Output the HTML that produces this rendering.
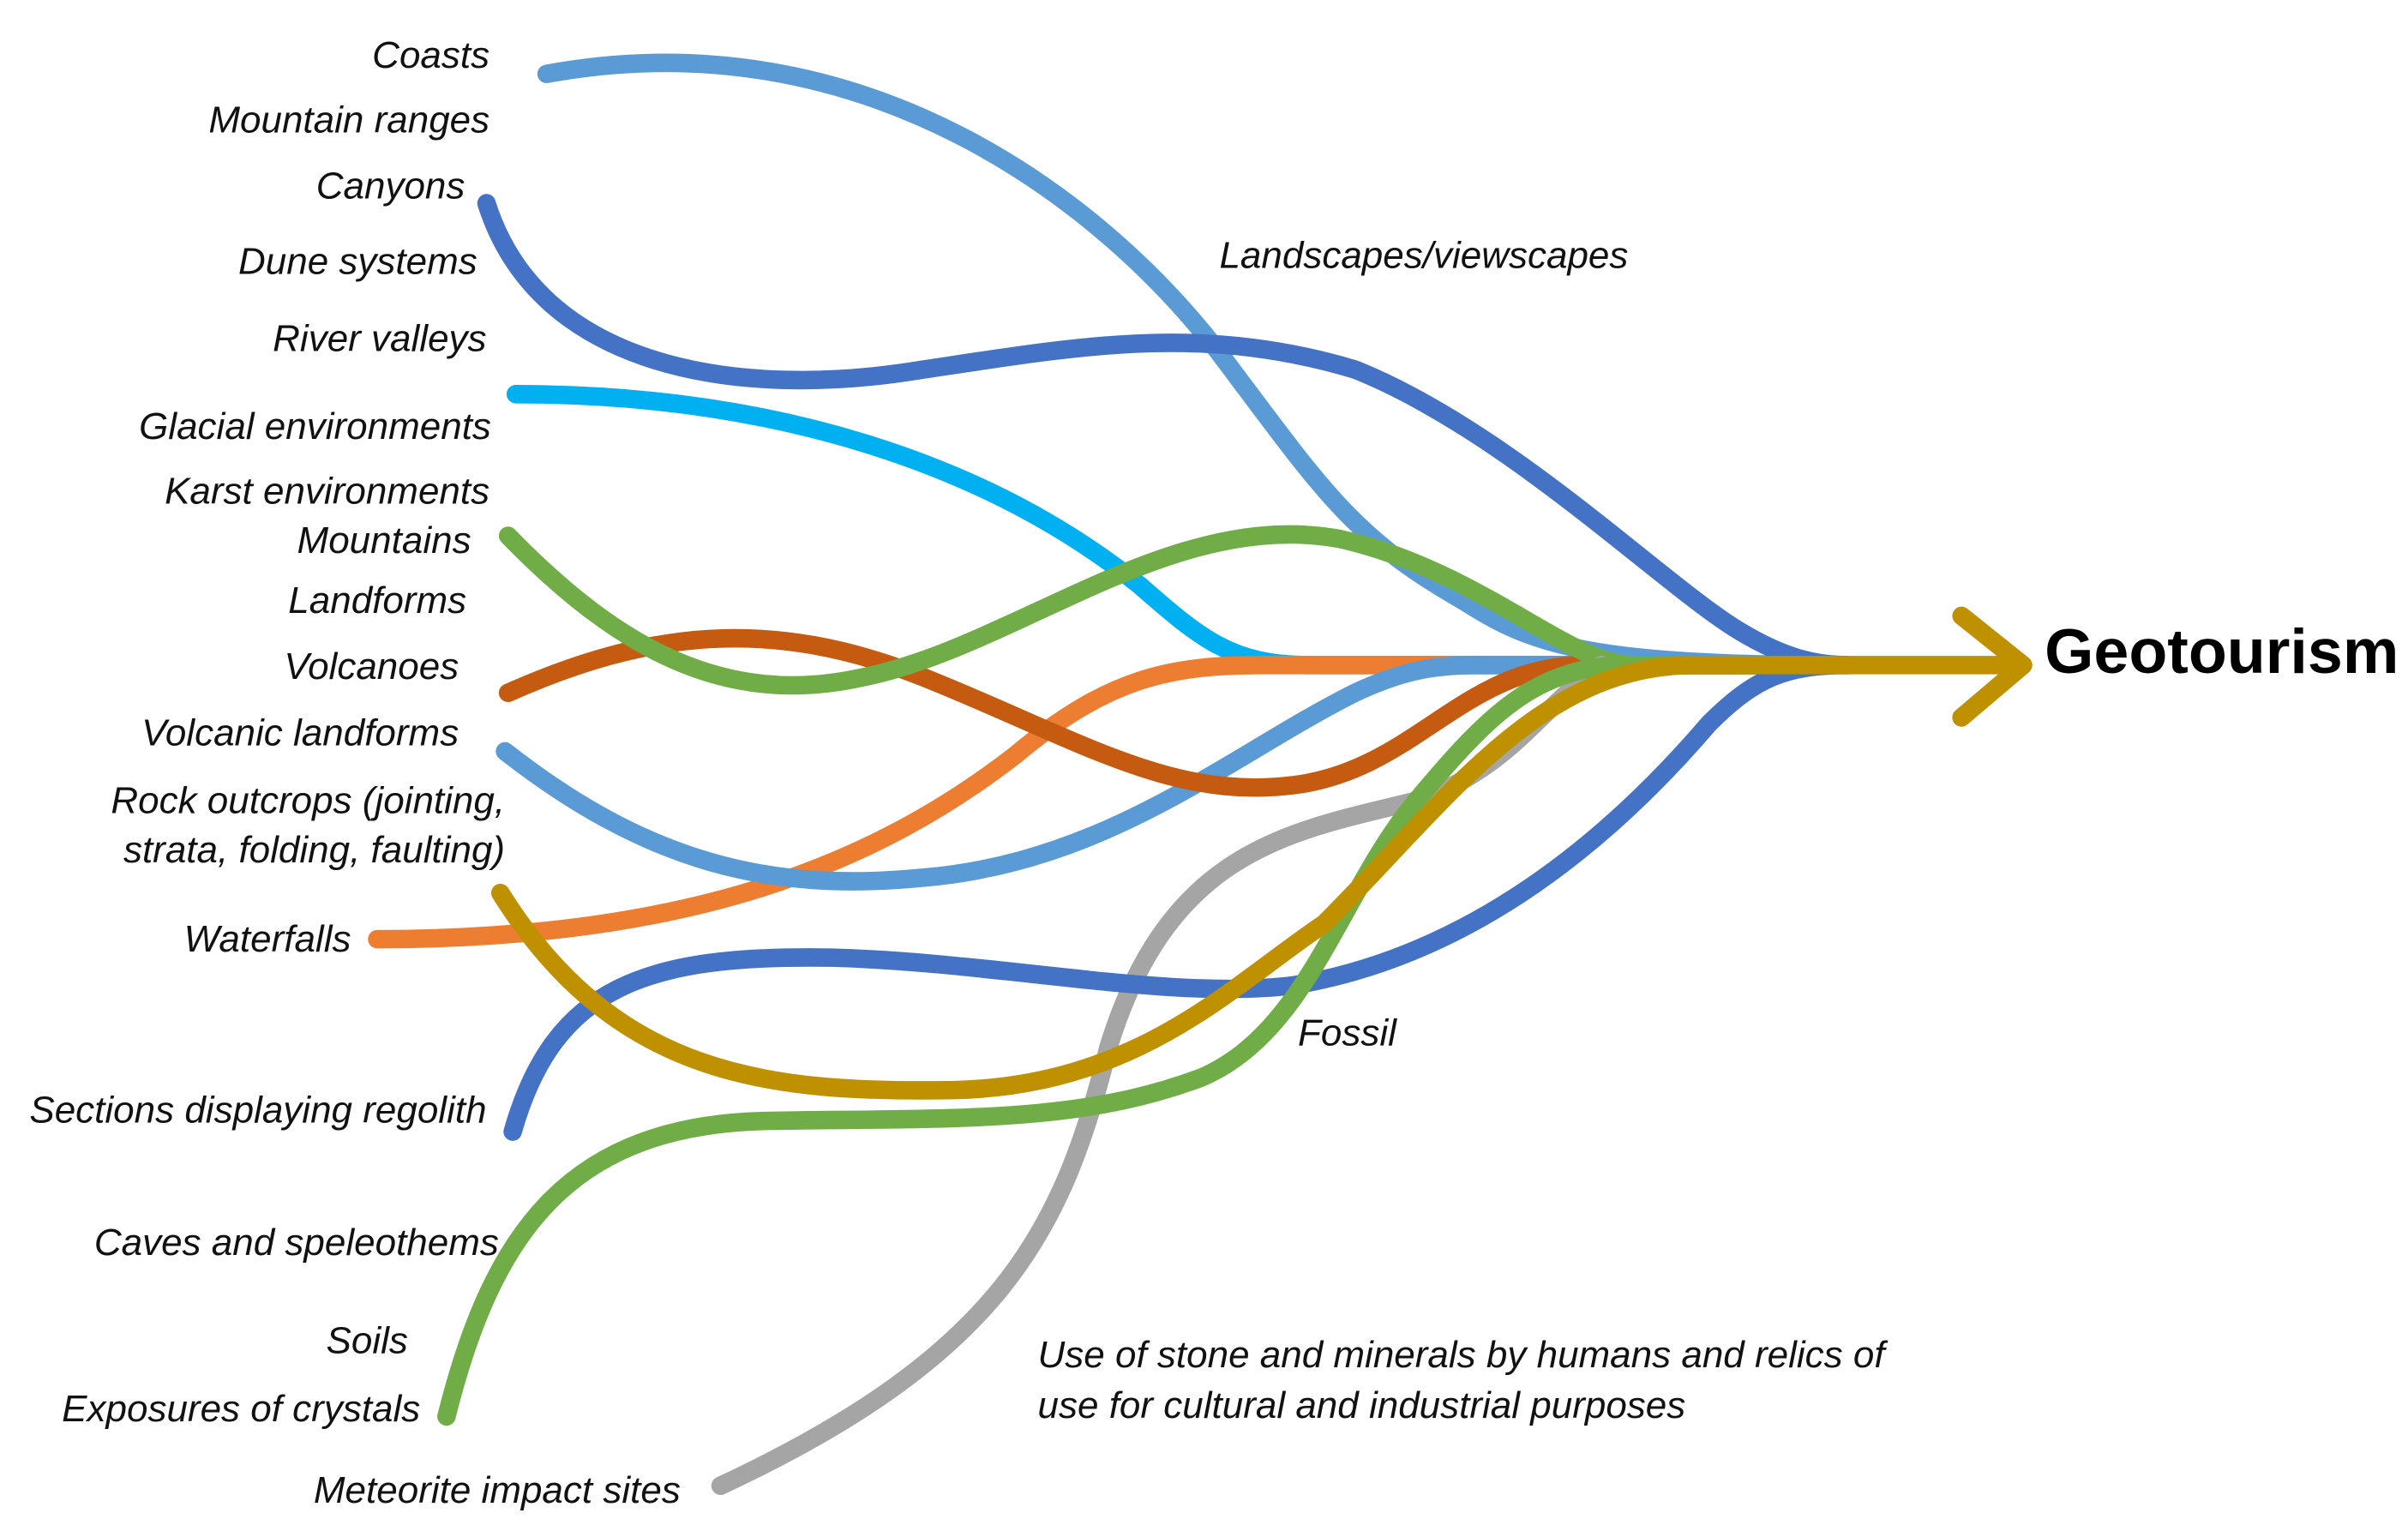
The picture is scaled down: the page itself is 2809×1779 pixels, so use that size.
<!DOCTYPE html>
<html><head><meta charset="utf-8"><style>
html,body{margin:0;padding:0;background:#fff;}
svg{display:block;}
text{font-family:"Liberation Sans",sans-serif;font-style:italic;font-size:24.5px;fill:#111;}
</style></head><body>
<svg width="2809" height="1779" viewBox="0 0 1564 990.5" preserveAspectRatio="none" xmlns="http://www.w3.org/2000/svg">
<g fill="none" stroke-width="12" stroke-linecap="round">
<path stroke="#5B9BD5" d="M355,48 C560,10 720,130 800,240 C860,320 880,350 950,390 C990,415 1020,432 1190,432"/>
<path stroke="#4472C4" d="M316,132 C350,240 480,260 600,240 C700,225 780,210 880,240 C980,280 1080,380 1130,410 C1160,428 1180,432 1200,432"/>
<path stroke="#00B0F0" d="M335,256 C500,256 640,300 740,380 C780,415 800,432 850,432 L1190,432"/>
<path stroke="#ED7D31" d="M245,610 C450,610 570,560 660,490 C720,440 760,432 820,432 L1190,432"/>
<path stroke="#5B9BD5" d="M328,488 C420,560 500,580 600,570 C720,560 800,490 880,450 C910,436 930,432 960,432 L1190,432"/>
<path stroke="#C55A11" d="M330,450 C420,410 500,400 600,440 C700,480 760,520 840,510 C920,500 950,432 1030,432 L1190,432"/>
<path stroke="#70AD47" d="M330,348 C400,420 470,460 560,440 C660,420 760,330 870,350 C960,370 1020,432 1060,432 L1190,432"/>
<path stroke="#A5A5A5" d="M468,965 C650,880 690,800 720,680 C760,550 840,540 920,520 C980,500 1000,460 1040,432"/>
<path stroke="#4472C4" d="M333,735 C360,640 420,620 540,622 C650,625 760,650 840,640 C960,620 1050,540 1110,470 C1140,440 1160,432 1200,432"/>
<path stroke="#70AD47" d="M290,920 C320,800 370,730 500,728 C620,726 700,730 780,700 C850,670 870,580 920,520 C970,460 1000,432 1060,432"/>
<path stroke="#BF9000" d="M325,580 C400,700 500,710 620,708 C740,705 800,640 860,600 C940,520 1000,432 1100,432 L1312,432"/>
<path stroke="#BF9000" d="M1274,400 L1314,432 L1274,466" stroke-linejoin="round"/>
</g>
<g text-anchor="end">
<text x="318" y="44">Coasts</text>
<text x="318" y="86">Mountain ranges</text>
<text x="302" y="129">Canyons</text>
<text x="310" y="178">Dune systems</text>
<text x="316" y="228">River valleys</text>
<text x="319" y="285">Glacial environments</text>
<text x="318" y="327">Karst environments</text>
<text x="306" y="359">Mountains</text>
<text x="303" y="398">Landforms</text>
<text x="298" y="441">Volcanoes</text>
<text x="298" y="484">Volcanic landforms</text>
<text x="328" y="528">Rock outcrops (jointing,</text>
<text x="328" y="560">strata, folding, faulting)</text>
<text x="228" y="618">Waterfalls</text>
<text x="316" y="729">Sections displaying regolith</text>
<text x="324" y="815">Caves and speleothems</text>
<text x="265" y="879">Soils</text>
<text x="273" y="923">Exposures of crystals</text>
<text x="442" y="976">Meteorite impact sites</text>
</g>
<text x="792" y="174">Landscapes/viewscapes</text>
<text x="843" y="679">Fossil</text>
<text x="674" y="888">Use of stone and minerals by humans and relics of</text>
<text x="674" y="921">use for cultural and industrial purposes</text>
<text x="1328" y="437" style="font-style:normal;font-weight:bold;font-size:41px;fill:#000">Geotourism</text>
</svg>
</body></html>
